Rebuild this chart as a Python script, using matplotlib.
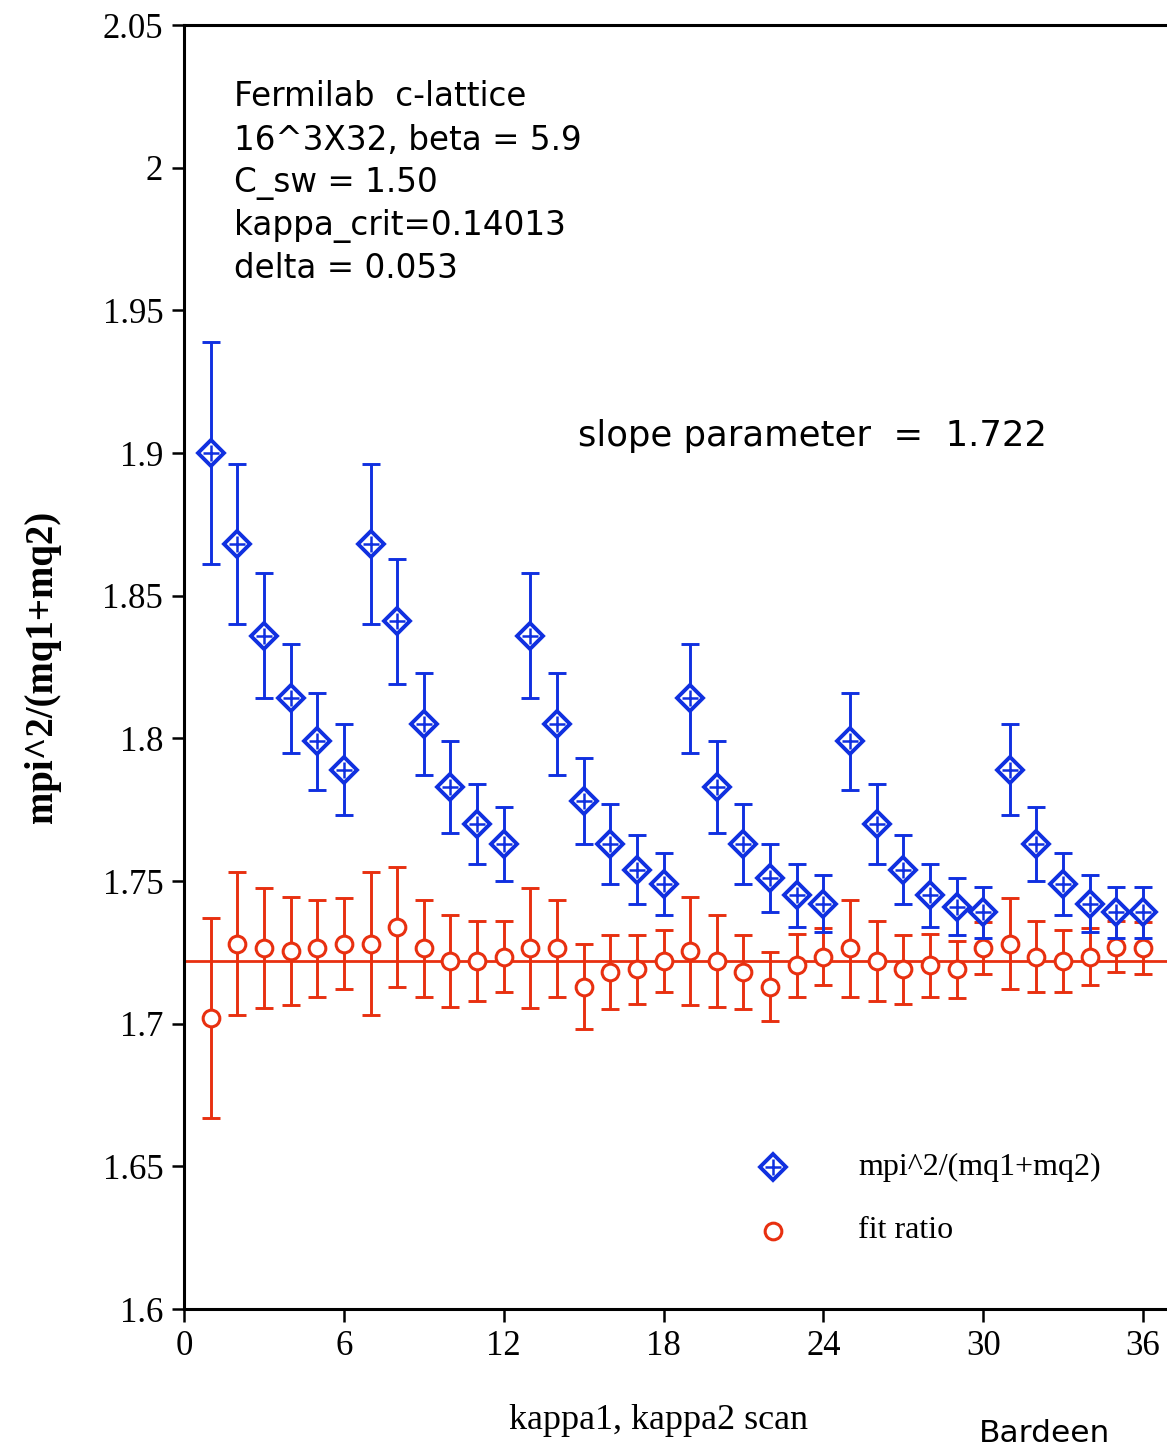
import numpy as np
import matplotlib
matplotlib.use("Agg")
import matplotlib.pyplot as plt

# kappa1, kappa2 scan index
SCAN = np.arange(1, 37)

# mpi^2/(mq1+mq2) and errors
RATIO = [1.900, 1.868, 1.836, 1.814, 1.799, 1.789,
         1.868, 1.841, 1.805, 1.783, 1.770, 1.763,
         1.836, 1.805, 1.778, 1.763, 1.754, 1.749,
         1.814, 1.783, 1.763, 1.751, 1.745, 1.742,
         1.799, 1.770, 1.754, 1.745, 1.741, 1.739,
         1.789, 1.763, 1.749, 1.742, 1.739, 1.739]
RATIO_ERR = [0.039, 0.028, 0.022, 0.019, 0.017, 0.016,
             0.028, 0.022, 0.018, 0.016, 0.014, 0.013,
             0.022, 0.018, 0.015, 0.014, 0.012, 0.011,
             0.019, 0.016, 0.014, 0.012, 0.011, 0.010,
             0.017, 0.014, 0.012, 0.011, 0.010, 0.009,
             0.016, 0.013, 0.011, 0.010, 0.009, 0.009]

# fit ratio and errors
FIT = [1.702, 1.728, 1.7265, 1.7255, 1.7265, 1.728,
       1.728, 1.734, 1.7265, 1.722, 1.722, 1.7235,
       1.7265, 1.7265, 1.713, 1.718, 1.719, 1.722,
       1.7255, 1.722, 1.718, 1.713, 1.7205, 1.7235,
       1.7265, 1.722, 1.719, 1.7205, 1.719, 1.7265,
       1.728, 1.7235, 1.722, 1.7235, 1.727, 1.7265]
FIT_ERR = [0.035, 0.025, 0.021, 0.019, 0.017, 0.016,
           0.025, 0.021, 0.017, 0.016, 0.014, 0.0125,
           0.021, 0.017, 0.015, 0.013, 0.012, 0.011,
           0.019, 0.016, 0.013, 0.012, 0.011, 0.010,
           0.017, 0.014, 0.012, 0.011, 0.010, 0.009,
           0.016, 0.0125, 0.011, 0.010, 0.009, 0.009]

SLOPE = 1.722

BLUE = '#1030e0'
RED = '#e83010'
SERIF = ['Liberation Serif', 'DejaVu Serif']
SANS = ['DejaVu Sans']

fig = plt.figure(figsize=(11.67, 14.49), dpi=100)
ax = fig.add_axes([0.1577, 0.0966, 0.8423, 0.8861])

ax.axhline(SLOPE, color=RED, lw=2.0, zorder=1)

ax.errorbar(SCAN, FIT, yerr=FIT_ERR, fmt='none', ecolor=RED,
            elinewidth=2.1, capsize=6.5, capthick=2.1, zorder=2)
ax.plot(SCAN, FIT, 'o', ms=12, mfc='white', mec=RED, mew=2.2, zorder=3)

ax.errorbar(SCAN, RATIO, yerr=RATIO_ERR, fmt='none', ecolor=BLUE,
            elinewidth=2.1, capsize=6.5, capthick=2.1, zorder=4)
ax.plot(SCAN, RATIO, 'D', ms=13, mfc='white', mec=BLUE, mew=2.8, zorder=5)
ax.plot(SCAN, RATIO, '+', ms=12, mec=BLUE, mew=1.8, zorder=6)

ax.set_xlim(0, 36.9)
ax.set_ylim(1.6, 2.05)
ax.set_xticks(np.arange(0, 37, 6))
ax.set_yticks([1.6, 1.65, 1.7, 1.75, 1.8, 1.85, 1.9, 1.95, 2.0, 2.05])
ax.set_yticklabels(['1.6', '1.65', '1.7', '1.75', '1.8', '1.85', '1.9',
                    '1.95', '2', '2.05'])
ax.spines['right'].set_visible(False)
for s in ['left', 'bottom', 'top']:
    ax.spines[s].set_linewidth(2.2)
ax.tick_params(direction='out', length=9, width=1.8, pad=6, labelsize=25)
for lab in ax.get_xticklabels() + ax.get_yticklabels():
    lab.set_fontfamily(SERIF)

ax.set_ylabel('mpi^2/(mq1+mq2)', fontsize=28, fontweight='bold',
              family=SERIF, labelpad=30)
fig.text(0.564, 0.0195, 'kappa1, kappa2 scan', fontsize=26, family=SERIF,
         ha='center', va='center')
fig.text(0.895, 0.011, 'Bardeen', fontsize=22.5, family=SANS,
         ha='center', va='center')

info = ['Fermilab  c-lattice', '16^3X32, beta = 5.9', 'C_sw = 1.50',
        'kappa_crit=0.14013', 'delta = 0.053']
for i, line in enumerate(info):
    fig.text(234 / 1167, 1 - (97 + 43 * i) / 1449, line, fontsize=23.5,
             family=SANS, ha='left', va='center')
fig.text(578 / 1167, 1 - 436 / 1449, 'slope parameter  =  1.722',
         fontsize=25.5, family=SANS, ha='left', va='center')

# legend entries
lx, ly1, ly2 = 773 / 1167, 1 - 1167 / 1449, 1 - 1231 / 1449
fig.lines.append(plt.Line2D([lx], [ly1], marker='D', ms=13, mfc='white',
                            mec=BLUE, mew=2.8, transform=fig.transFigure))
fig.lines.append(plt.Line2D([lx], [ly1], marker='+', ms=12, mec=BLUE,
                            mew=1.8, transform=fig.transFigure))
fig.lines.append(plt.Line2D([lx], [ly2], marker='o', ms=12, mfc='white',
                            mec=RED, mew=2.2, transform=fig.transFigure))
fig.text(858 / 1167, ly1, 'mpi^2/(mq1+mq2)', fontsize=23, family=SERIF,
         ha='left', va='center')
fig.text(858 / 1167, ly2, 'fit ratio', fontsize=23, family=SERIF,
         ha='left', va='center')

fig.savefig('out.png', dpi=100)
